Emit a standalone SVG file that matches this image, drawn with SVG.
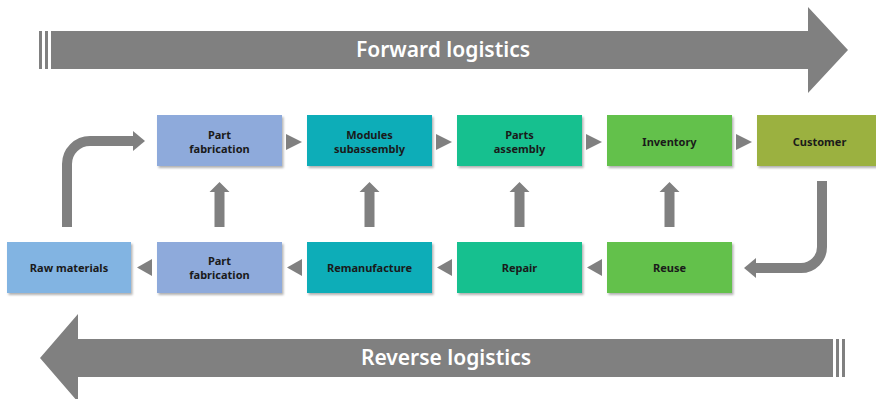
<svg xmlns="http://www.w3.org/2000/svg" width="876" height="399" viewBox="0 0 876 399">
  <defs>
    <filter id="shadow" x="-10%" y="-10%" width="125%" height="135%">
      <feDropShadow dx="1.5" dy="2" stdDeviation="1.2" flood-color="#000" flood-opacity="0.3"/>
    </filter>
    <style>
      .box { filter: url(#shadow); }
      .lbl { font-family: "Noto Sans", "Open Sans", sans-serif; font-size: 11px; font-weight: bold; fill: #1a1a1a; text-anchor: middle; }
      .big { font-family: "Noto Sans", "Open Sans", sans-serif; font-size: 21px; font-weight: 600; fill: #ffffff; text-anchor: middle; }
      .band { fill: #808080; }
      .conn { fill: #808080; }
      .shaft { fill: none; stroke: #808080; stroke-width: 10; }
      .c-raw { fill: #82B4E2; }
      .c-fab { fill: #8EAADB; }
      .c-mod { fill: #0AADB8; }
      .c-asm { fill: #13C08F; }
      .c-inv { fill: #63C14B; }
      .c-cus { fill: #9BB13F; }
    </style>
  </defs>

  <!-- Forward logistics band -->
  <g id="forward-logistics">
    <rect class="band" x="39" y="31" width="3" height="38"/>
    <rect class="band" x="45" y="31" width="3" height="38"/>
    <polygon class="band" points="51,31 808,31 808,7 848,50 808,93 808,69 51,69"/>
    <text class="big" x="443" y="57">Forward logistics</text>
  </g>

  <!-- Reverse logistics band -->
  <g id="reverse-logistics">
    <polygon class="band" points="833,339 78,339 78,314 40,358 78,402 78,377 833,377"/>
    <rect class="band" x="836" y="339" width="3" height="38"/>
    <rect class="band" x="842" y="339" width="3" height="38"/>
    <text class="big" x="446" y="365">Reverse logistics</text>
  </g>

  <!-- Forward chain -->
  <g id="part-fabrication-top">
    <rect class="box c-fab" x="157" y="115" width="125" height="51"/>
    <text class="lbl" x="219.5" y="138.5">Part</text>
    <text class="lbl" x="219.5" y="152.5">fabrication</text>
  </g>
  <g id="modules-subassembly">
    <rect class="box c-mod" x="307" y="115" width="125" height="51"/>
    <text class="lbl" x="369.5" y="138.5">Modules</text>
    <text class="lbl" x="369.5" y="152.5">subassembly</text>
  </g>
  <g id="parts-assembly">
    <rect class="box c-asm" x="457" y="115" width="125" height="51"/>
    <text class="lbl" x="519.5" y="138.5">Parts</text>
    <text class="lbl" x="519.5" y="152.5">assembly</text>
  </g>
  <g id="inventory">
    <rect class="box c-inv" x="607" y="115" width="125" height="51"/>
    <text class="lbl" x="669.5" y="145.5">Inventory</text>
  </g>
  <g id="customer">
    <rect class="box c-cus" x="757" y="115" width="125" height="51"/>
    <text class="lbl" x="819.5" y="145.5">Customer</text>
  </g>

  <!-- Reverse chain -->
  <g id="raw-materials">
    <rect class="box c-raw" x="7" y="242" width="124" height="51"/>
    <text class="lbl" x="69" y="271.5">Raw materials</text>
  </g>
  <g id="part-fabrication-bottom">
    <rect class="box c-fab" x="157" y="242" width="125" height="51"/>
    <text class="lbl" x="219.5" y="264.5">Part</text>
    <text class="lbl" x="219.5" y="278.5">fabrication</text>
  </g>
  <g id="remanufacture">
    <rect class="box c-mod" x="307" y="242" width="125" height="51"/>
    <text class="lbl" x="369.5" y="271.5">Remanufacture</text>
  </g>
  <g id="repair">
    <rect class="box c-asm" x="457" y="242" width="125" height="51"/>
    <text class="lbl" x="519.5" y="271.5">Repair</text>
  </g>
  <g id="reuse">
    <rect class="box c-inv" x="607" y="242" width="125" height="51"/>
    <text class="lbl" x="669.5" y="271.5">Reuse</text>
  </g>

  <!-- Connectors -->
  <g id="connectors">
    <!-- forward steps -->
    <polygon class="conn" points="286,134 302,142 286,150"/>
    <polygon class="conn" points="436,134 452,142 436,150"/>
    <polygon class="conn" points="586,134 602,142 586,150"/>
    <polygon class="conn" points="736,134 752,142 736,150"/>

    <!-- reverse steps -->
    <polygon class="conn" points="152,259 137,267.5 152,276"/>
    <polygon class="conn" points="302,259 287,267.5 302,276"/>
    <polygon class="conn" points="452,259 437,267.5 452,276"/>
    <polygon class="conn" points="602,259 587,267.5 602,276"/>

    <!-- upward returns -->
    <polygon class="conn" points="214.5,227 214.5,192 209.5,192 219.5,182 229.5,192 224.5,192 224.5,227"/>
    <polygon class="conn" points="364.5,227 364.5,192 359.5,192 369.5,182 379.5,192 374.5,192 374.5,227"/>
    <polygon class="conn" points="514.5,227 514.5,192 509.5,192 519.5,182 529.5,192 524.5,192 524.5,227"/>
    <polygon class="conn" points="664.5,227 664.5,192 659.5,192 669.5,182 679.5,192 674.5,192 674.5,227"/>

    <!-- raw materials into part fabrication -->
    <path class="shaft" d="M67,227 V164 A23,23 0 0 1 90,141 H134"/>
    <polygon class="conn" points="133,131 145,141 133,151"/>

    <!-- customer back to reuse -->
    <path class="shaft" d="M822,181 V247 A21,21 0 0 1 801,268 H755"/>
    <polygon class="conn" points="756,258 744,268 756,278"/>
  </g>
</svg>
